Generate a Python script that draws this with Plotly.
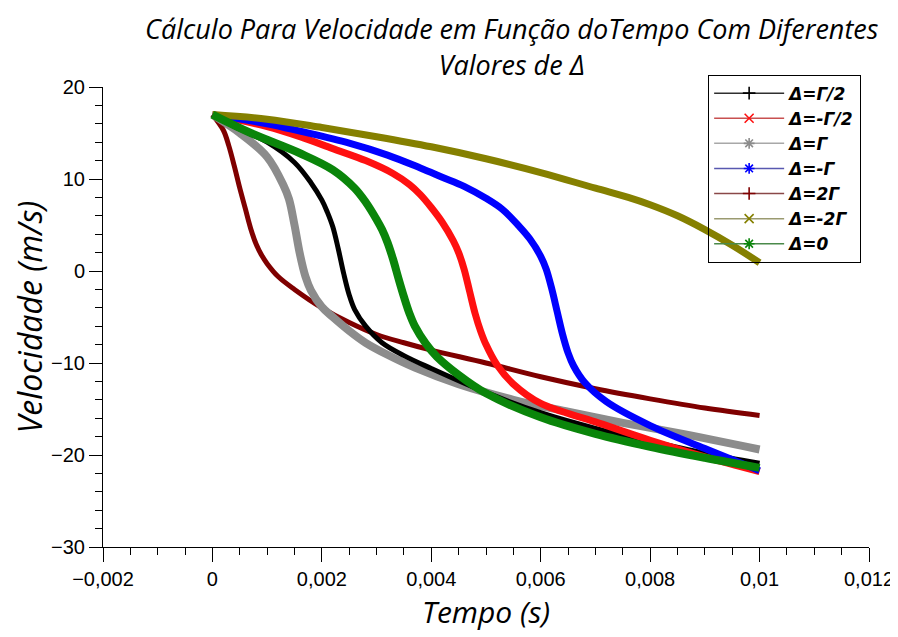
import plotly.graph_objects as go

# ---------------- data ----------------
names = ["Δ=Γ/2", "Δ=-Γ/2", "Δ=Γ", "Δ=-Γ", "Δ=2Γ", "Δ=-2Γ", "Δ=0"]

t_gamma_half = [0, 0.0004, 0.001, 0.0015, 0.0018, 0.002, 0.0021, 0.0022, 0.0023, 0.0024,
                0.0025, 0.0026, 0.0028, 0.0031, 0.0035, 0.004, 0.005, 0.006, 0.007, 0.008,
                0.009, 0.01]
v_gamma_half = [17.0, 15.7, 14.0, 11.8, 9.6, 7.7, 6.4, 4.8, 2.4, -0.3,
                -2.6, -4.2, -6.0, -7.8, -9.2, -10.6, -13.2, -15.4, -17.1, -18.5,
                -19.8, -20.9]

t_mgamma_half = [0, 0.001, 0.0016, 0.0022, 0.0028, 0.0033, 0.0036, 0.0038, 0.004, 0.0042,
                 0.0044, 0.0045, 0.0046, 0.0047, 0.0048, 0.0049, 0.005, 0.0052, 0.0055, 0.006,
                 0.007, 0.008, 0.009, 0.01]
v_mgamma_half = [17.0, 15.7, 14.6, 13.3, 12.0, 10.6, 9.4, 8.3, 6.9, 5.3,
                 3.3, 2.0, 0.2, -2.2, -4.6, -6.5, -8.0, -10.2, -12.3, -14.4,
                 -16.4, -18.4, -20.2, -21.8]

t_gamma = [0, 0.0005, 0.001, 0.0013, 0.0014, 0.0015, 0.0016, 0.0017, 0.0018, 0.002,
           0.0022, 0.0025, 0.0028, 0.0032, 0.0037, 0.0045, 0.0055, 0.0065, 0.0075, 0.0085,
           0.01]
v_gamma = [17.0, 15.0, 12.4, 9.3, 7.8, 5.0, 1.8, -0.6, -2.1, -3.9,
           -5.0, -6.5, -7.8, -9.1, -10.5, -12.3, -14.0, -15.3, -16.5, -17.6,
           -19.4]

t_mgamma = [0, 0.001, 0.0016, 0.0025, 0.0032, 0.0038, 0.0042, 0.0046, 0.005, 0.0053,
            0.0056, 0.0058, 0.006, 0.0061, 0.0062, 0.0063, 0.0064, 0.0065, 0.0066, 0.0068,
            0.0072, 0.008, 0.009, 0.01]
v_mgamma = [17.0, 16.0, 15.2, 13.9, 12.6, 11.2, 10.2, 9.2, 7.9, 6.7,
            4.9, 3.5, 1.6, 0.2, -1.9, -4.4, -6.9, -8.9, -10.3, -12.1,
            -14.2, -16.8, -19.3, -21.7]

t_2gamma = [0, 0.0002, 0.0003, 0.0004, 0.0005, 0.0006, 0.0007, 0.0008, 0.0009, 0.001,
            0.0012, 0.0015, 0.002, 0.0025, 0.003, 0.0035, 0.004, 0.005, 0.006, 0.007,
            0.008, 0.009, 0.01]
v_2gamma = [17.0, 15.3, 13.6, 11.4, 9.0, 6.8, 4.6, 2.9, 1.7, 0.8,
            -0.6, -2.0, -4.0, -5.6, -6.9, -7.8, -8.6, -10.0, -11.5, -12.8,
            -13.9, -14.9, -15.7]

t_m2gamma = [0, 0.001, 0.002, 0.003, 0.004, 0.005, 0.006, 0.007, 0.0076, 0.008,
             0.0085, 0.009, 0.0095, 0.01]
v_m2gamma = [17.0, 16.5, 15.6, 14.6, 13.5, 12.2, 10.7, 9.0, 8.0, 7.2,
             6.0, 4.5, 2.8, 0.9]

t_zero = [0, 0.0007, 0.0016, 0.0022, 0.0026, 0.0028, 0.003, 0.0031, 0.0032, 0.0033,
          0.0034, 0.0035, 0.0036, 0.0037, 0.0039, 0.0041, 0.0045, 0.005, 0.006, 0.007,
          0.008, 0.009, 0.01]
v_zero = [17.0, 15.0, 12.8, 11.0, 9.0, 7.5, 5.6, 4.5, 3.1, 1.3,
          -0.8, -2.8, -4.6, -6.0, -7.9, -9.3, -11.3, -13.3, -15.9, -17.7,
          -19.1, -20.3, -21.4]

x_tickvals = [-0.002, 0, 0.002, 0.004, 0.006, 0.008, 0.01, 0.012]
y_tickvals = [-30, -20, -10, 0, 10, 20]

series_t = [t_gamma_half, t_mgamma_half, t_gamma, t_mgamma, t_2gamma, t_m2gamma, t_zero]
series_v = [v_gamma_half, v_mgamma_half, v_gamma, v_mgamma, v_2gamma, v_m2gamma, v_zero]

# ---------------- styles ----------------
colors = ["#000000", "#ff1010", "#8c8c8c", "#0000ff", "#7f0000", "#858000", "#0a850a"]
legend_line_colors = ["#303030", "#c85050", "#a8a8a8", "#5858b0", "#8a4848", "#9a9a70", "#4a8a4a"]
widths = [5, 7, 8, 7, 5, 7, 8]
symbols = ["cross-thin", "x-thin", "asterisk", "asterisk", "cross-thin", "x-thin", "asterisk"]

fig = go.Figure()

draw_order = [4, 2, 0, 1, 3, 5, 6]
for i in draw_order:
    fig.add_trace(go.Scatter(
        x=series_t[i], y=series_v[i], mode="lines",
        line=dict(color=colors[i], width=widths[i], shape="spline", smoothing=1.0),
        showlegend=False, legendgroup=names[i], hoverinfo="skip",
    ))

for i in range(len(names)):
    fig.add_trace(go.Scatter(
        x=[None], y=[None], mode="lines+markers", name=names[i],
        legendgroup=names[i],
        line=dict(color=legend_line_colors[i], width=1.5),
        marker=dict(symbol=symbols[i], size=9, color=colors[i],
                    line=dict(color=colors[i], width=1.6)),
    ))

# the page body adds an 8px offset, so the figure is 8px smaller than the window
fig.update_layout(
    width=890, height=629,
    paper_bgcolor="white", plot_bgcolor="white",
    separators=",.",
    margin=dict(l=95, r=29, t=79, b=90),
    title=dict(
        text="Cálculo Para Velocidade em Função doTempo Com Diferentes<br>Valores de Δ",
        x=0.566, xanchor="center", y=0.950, yanchor="middle",
        font=dict(family="Open Sans", size=27, color="#000000", style="italic"),
    ),
    font=dict(family="Liberation Sans, Arial", color="#000000"),
    legend=dict(
        x=0.79, xanchor="left", y=1.027, yanchor="top",
        bgcolor="rgba(255,255,255,0)", bordercolor="#000000", borderwidth=1,
        font=dict(family="DejaVu Sans", size=17, color="#000000", weight="bold", style="italic"),
        itemwidth=70, tracegroupgap=0, traceorder="grouped",
    ),
    xaxis=dict(
        range=[-0.002, 0.012], tickvals=x_tickvals, automargin=False,
        showline=True, linecolor="#000000", linewidth=1,
        showgrid=False, zeroline=False,
        ticks="outside", ticklen=14, tickwidth=1, tickcolor="#000000",
        tickfont=dict(family="Liberation Sans", size=20, color="#000000"),
        minor=dict(dtick=0.0005, ticks="outside", ticklen=7, tickcolor="#000000", showgrid=False),
        title=dict(text="Tempo (s)", standoff=12,
                   font=dict(family="Open Sans", size=30, color="#000000", style="italic")),
    ),
    yaxis=dict(
        range=[-30, 20], tickvals=y_tickvals, automargin=False,
        showline=True, linecolor="#000000", linewidth=1,
        showgrid=False, zeroline=False,
        ticks="outside", ticklen=13, tickwidth=1, tickcolor="#000000",
        tickfont=dict(family="Liberation Sans", size=20, color="#000000"),
        minor=dict(dtick=2, ticks="outside", ticklen=7, tickcolor="#000000", showgrid=False),
        title=dict(text="Velocidade (m/s)", standoff=16,
                   font=dict(family="Open Sans", size=32, color="#000000", style="italic")),
    ),
)

fig.write_html("out.html")
